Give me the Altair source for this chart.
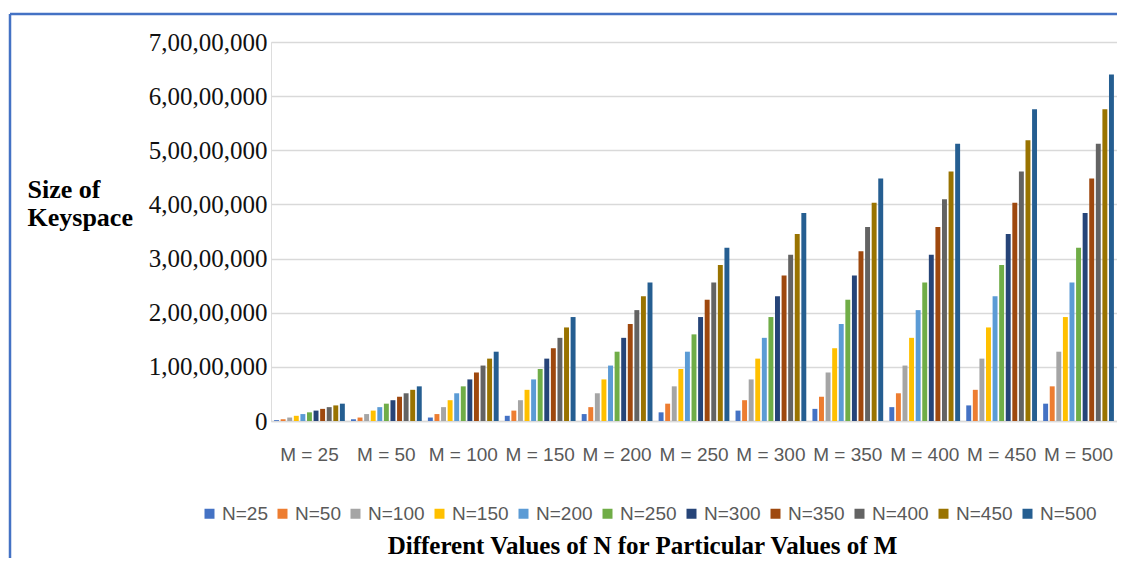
import altair as alt
import pandas as pd

M_labels = ["M = 25", "M = 50", "M = 100", "M = 150", "M = 200", "M = 250",
            "M = 300", "M = 350", "M = 400", "M = 450", "M = 500"]
N_labels = ["N=25", "N=50", "N=100", "N=150", "N=200", "N=250",
            "N=300", "N=350", "N=400", "N=450", "N=500"]
colors = ["#4472C4", "#ED7D31", "#A5A5A5", "#FFC000", "#5B9BD5", "#70AD47",
          "#264478", "#9E480E", "#636363", "#997300", "#255E91"]

values = [
    [160000, 320000, 640000, 960000, 1280000, 1600000, 1920000, 2240000, 2560000, 2880000, 3200000],
    [320000, 640000, 1280000, 1920000, 2560000, 3200000, 3840000, 4480000, 5120000, 5760000, 6400000],
    [640000, 1280000, 2560000, 3840000, 5120000, 6400000, 7680000, 8960000, 10240000, 11520000, 12800000],
    [960000, 1920000, 3840000, 5760000, 7680000, 9600000, 11520000, 13440000, 15360000, 17280000, 19200000],
    [1280000, 2560000, 5120000, 7680000, 10240000, 12800000, 15360000, 17920000, 20480000, 23040000, 25600000],
    [1600000, 3200000, 6400000, 9600000, 12800000, 16000000, 19200000, 22400000, 25600000, 28800000, 32000000],
    [1920000, 3840000, 7680000, 11520000, 15360000, 19200000, 23040000, 26880000, 30720000, 34560000, 38400000],
    [2240000, 4480000, 8960000, 13440000, 17920000, 22400000, 26880000, 31360000, 35840000, 40320000, 44800000],
    [2560000, 5120000, 10240000, 15360000, 20480000, 25600000, 30720000, 35840000, 40960000, 46080000, 51200000],
    [2880000, 5760000, 11520000, 17280000, 23040000, 28800000, 34560000, 40320000, 46080000, 51840000, 57600000],
    [3200000, 6400000, 12800000, 19200000, 25600000, 32000000, 38400000, 44800000, 51200000, 57600000, 64000000],
]
y_ticks = [0, 10000000, 20000000, 30000000, 40000000, 50000000, 60000000, 70000000]

rows = []
for i, m in enumerate(M_labels):
    for j, n in enumerate(N_labels):
        rows.append({"M": m, "N": n, "value": values[i][j]})
df = pd.DataFrame(rows)

bars = alt.Chart(df).mark_bar().encode(
    x=alt.X("M:N", sort=M_labels,
            scale=alt.Scale(paddingInner=0.08, paddingOuter=0.04),
            axis=alt.Axis(title="Different Values of N for Particular Values of M",
                          labelAngle=0, labelFont="Liberation Sans", labelFontSize=19,
                          labelColor="#595959", labelPadding=24, ticks=False,
                          domain=True, domainColor="#d9d9d9", domainWidth=1.5,
                          titleFont="Liberation Serif", titleFontSize=25,
                          titleFontWeight="bold", titleColor="#000000",
                          titleX=371, titleY=132, titleBaseline="alphabetic",
                          titleAlign="center")),
    xOffset=alt.XOffset("N:N", sort=N_labels, scale=alt.Scale(paddingInner=0.25)),
    y=alt.Y("value:Q", scale=alt.Scale(domain=[0, 70000000]),
            axis=alt.Axis(values=y_ticks,
                          labelExpr="datum.value == 0 ? '0' : format(datum.value / 10000000, 'd') + ',00,00,000'",
                          title=["Size of", "Keyspace"], titleAngle=0, titleAlign="left",
                          titleBaseline="alphabetic", titleX=-244, titleY=155,
                          titleFont="Liberation Serif", titleFontSize=26,
                          titleFontWeight="bold", titleColor="#000000", titleLineHeight=28,
                          labelFont="Liberation Serif", labelFontSize=25,
                          labelColor="#111111", labelPadding=4, ticks=False, domain=False,
                          grid=True, gridColor="#d9d9d9", gridWidth=1.5)),
    color=alt.Color("N:N", sort=N_labels,
                    scale=alt.Scale(domain=N_labels, range=colors),
                    legend=alt.Legend(title=None, orient="none", legendX=-71, legendY=462,
                                      direction="horizontal", columns=11,
                                      symbolType="square", symbolSize=100,
                                      symbolStrokeWidth=0, labelFont="Liberation Sans",
                                      labelFontSize=19, labelColor="#595959",
                                      labelOffset=3, columnPadding=5)),
)

frame_df = pd.DataFrame({"a": [0]})
top_line = alt.Chart(frame_df).mark_rule(color="#4472C4", strokeWidth=2.5).encode(
    x=alt.value(-261), x2=alt.value(850), y=alt.value(-28))
left_line = alt.Chart(frame_df).mark_rule(color="#4472C4", strokeWidth=2.5).encode(
    x=alt.value(-261), y=alt.value(-28), y2=alt.value(540))

chart = alt.layer(bars, top_line, left_line).properties(
    width=846, height=379,
    autosize=alt.AutoSizeParams(type="none"),
    padding={"left": 263, "top": 34, "right": 0, "bottom": 137},
).configure_view(stroke=None).configure(background="#ffffff")

chart.save("out.html", embed_options={"renderer": "svg", "actions": False})
